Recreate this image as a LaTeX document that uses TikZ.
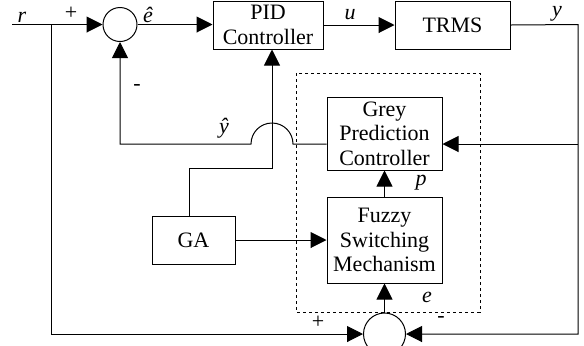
\documentclass[tikz,border=0pt]{standalone}
\usepackage{fontspec}
\setmainfont{Liberation Serif}
\usetikzlibrary{arrows.meta}
\begin{document}
\begin{tikzpicture}[x=0.5pt,y=0.5pt,line width=0.5pt,
	every node/.style={font=\fontsize{11}{12.2}\selectfont},
	blockbox/.style={draw,align=center,inner sep=0pt},
	sumnode/.style={draw,circle,inner sep=0pt},
	arr/.style={-{Triangle[length=8pt,width=8pt]}}]
			\path [use as bounding box,clip] (0,0) rectangle (584,-345);

			% blocks
			\node [blockbox,minimum width=55pt,minimum height=24pt] (pid) at (268,-25) {PID\\Controller};
			\node [blockbox,minimum width=57.5pt,minimum height=24pt] (trms) at (452.5,-25) {TRMS};
			\node [blockbox,minimum width=57.5pt,minimum height=36.5pt] (grey) at (384.5,-133.5) {Grey\\Prediction\\Controller};
			\node [blockbox,minimum width=57.5pt,minimum height=43pt] (fuzzy) at (384.5,-240) {Fuzzy\\Switching\\Mechanism};
			\node [blockbox,minimum width=41.5pt,minimum height=24pt] (ga) at (193.5,-240) {GA};
			\node [sumnode,minimum size=17pt] (sum1) at (120,-24.5) {};
			\node [sumnode,minimum size=21pt] (sum2) at (384.5,-334) {};
			\draw [dash pattern=on 1.5pt off 1.5pt] (296,-73) rectangle (480,-312);

			\coordinate (rin) at (12,-24.5);
			\coordinate (rsplit) at (51,-24.5);
			\coordinate (rbot) at (51,-334);
			\coordinate (ycorner) at (578,-24.5);
			\coordinate (ysplit) at (578,-144);
			\coordinate (ybot) at (578,-334);
			\coordinate (hopright) at (293,-144);
			\coordinate (gabend) at (272,-168);
			\coordinate (gacorner) at (189,-168);

			% connectors
			\draw (rin) -- (rsplit);
			\draw [arr] (rsplit) -- (sum1);
			\draw [arr] (sum1.east) -- (pid.west |- sum1.east);
			\draw [arr] (pid) -- (trms);
			\draw [arr] (trms.east) -- (ycorner) -- (ybot) -- (sum2);
			\draw [arr] (ysplit) -- (grey.east |- ysplit);
			\draw [arr] (grey.west |- ysplit) -- (hopright) arc [start angle=0,end angle=180,radius=21] -- (sum1 |- ysplit) -- (sum1.south);
			\draw [arr] (gacorner |- ga.north) -- (gacorner) -- (gabend) -- (pid.south -| gabend);
			\draw [arr] (ga) -- (fuzzy);
			\draw [arr] (fuzzy) -- (grey);
			\draw [arr] (sum2) -- (fuzzy);
			\draw [arr] (rsplit) -- (rbot) -- (sum2);

			% labels
			\node (rlabel) at (22,-17) {\textit{r}};
			\node (plus1) at (71,-13) {+};
			\node (ehat) at (148,-15) {\textit{ê}};
			\node (ulabel) at (350,-15) {\textit{u}};
			\node (ylabel) at (557,-13.5) {\textit{y}};
			\node (minus1) at (137,-87) {-};
			\node (yhat) at (224,-128) {\textit{ŷ}};
			\node (plabel) at (421,-183) {\textit{p}};
			\node (elabel) at (427,-297) {\textit{e}};
			\node (plus2) at (318,-322) {+};
			\node (minus2) at (441,-319) {-};
		\end{tikzpicture}
\end{document}
